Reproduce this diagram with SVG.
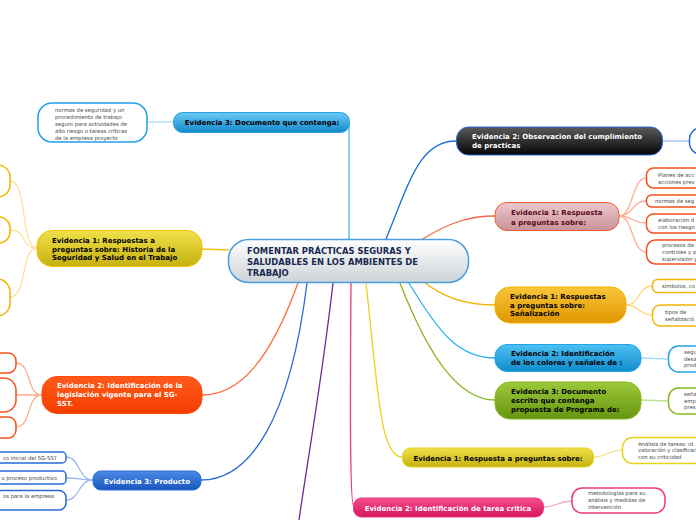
<svg xmlns="http://www.w3.org/2000/svg" width="696" height="520" viewBox="0 0 696 520">
<defs>
<linearGradient id="gBlueL" x1="0" y1="0" x2="0" y2="1"><stop offset="0" stop-color="#6ccaf5"/><stop offset="1" stop-color="#1289cc"/></linearGradient>
<linearGradient id="gYel" x1="0" y1="0" x2="0" y2="1"><stop offset="0" stop-color="#f0e04a"/><stop offset="1" stop-color="#c6b210"/></linearGradient>
<linearGradient id="gRed" x1="0" y1="0" x2="0" y2="1"><stop offset="0" stop-color="#ff5a1a"/><stop offset="1" stop-color="#f53e00"/></linearGradient>
<linearGradient id="gBlue" x1="0" y1="0" x2="0" y2="1"><stop offset="0" stop-color="#4a8ae6"/><stop offset="1" stop-color="#1a56bd"/></linearGradient>
<linearGradient id="gBlack" x1="0" y1="0" x2="0" y2="1"><stop offset="0" stop-color="#5a5a5a"/><stop offset="1" stop-color="#050505"/></linearGradient>
<linearGradient id="gRose" x1="0" y1="0" x2="0" y2="1"><stop offset="0" stop-color="#ecc8cc"/><stop offset="1" stop-color="#c8939a"/></linearGradient>
<linearGradient id="gAmber" x1="0" y1="0" x2="0" y2="1"><stop offset="0" stop-color="#fac63a"/><stop offset="1" stop-color="#de9600"/></linearGradient>
<linearGradient id="gCyan" x1="0" y1="0" x2="0" y2="1"><stop offset="0" stop-color="#4cc0f2"/><stop offset="1" stop-color="#108ccc"/></linearGradient>
<linearGradient id="gGreen" x1="0" y1="0" x2="0" y2="1"><stop offset="0" stop-color="#9cc83a"/><stop offset="1" stop-color="#669610"/></linearGradient>
<linearGradient id="gPink" x1="0" y1="0" x2="0" y2="1"><stop offset="0" stop-color="#f5508f"/><stop offset="1" stop-color="#d6145a"/></linearGradient>
<linearGradient id="gCenter" x1="0" y1="0" x2="0" y2="1"><stop offset="0" stop-color="#ffffff"/><stop offset="1" stop-color="#cdd3d8"/></linearGradient>
</defs>
<style>
.t{font-family:"DejaVu Sans",Verdana,sans-serif;font-weight:bold;font-size:7px;fill:#000}
.tw{fill:#fff}
.s{font-family:"DejaVu Sans",Verdana,sans-serif;font-size:5.3px;fill:#444}
.c{fill:none;stroke-width:1.3}
.leaf{fill:#fff;stroke-width:1.5}
</style>
<rect width="696" height="520" fill="#fff"/>
<g id="connectors">
<path class="c" stroke="#44bdf0" d="M349,240 V122"/>
<path class="c" stroke="#1f6fd8" d="M386,239 C410,180 420,141 456,141"/>
<path class="c" stroke="#f26848" d="M421,240 C450,222 470,216 495,216"/>
<path class="c" stroke="#f5b000" d="M423,281 C445,300 470,305 495,305"/>
<path class="c" stroke="#2eb2ee" d="M409,283 C440,335 460,358 495,358"/>
<path class="c" stroke="#88b820" d="M400,283 C430,360 460,400 495,400"/>
<path class="c" stroke="#e8d21e" d="M366,283 C378,390 380,457 402,457"/>
<path class="c" stroke="#ec3a7e" d="M351,283 C350,420 350,507 354,507"/>
<path class="c" stroke="#6a2a96" d="M333,283 C322,380 306,470 299,520"/>
<path class="c" stroke="#2a6ad8" d="M307,283 C290,420 250,480 201,480"/>
<path class="c" stroke="#ff6a3a" d="M298,283 C270,360 240,395 202,395"/>
<path class="c" stroke="#f5c210" d="M202,249 L229,250"/>
<path class="c" stroke="#a8dcf6" d="M147,122 L173,122"/>
<path class="c" stroke="#fde0a0" d="M37,248 C20,248 28,181 10,181 M37,248 C20,248 28,230 10,230 M37,248 C20,248 28,297 10,297"/>
<path class="c" stroke="#ffab90" d="M42,395 C26,395 32,363 16,363 M42,395 L16,395 M42,395 C26,395 32,427 16,427"/>
<path class="c" stroke="#9ab8f0" d="M93,480 C78,480 80,457 66,457 M93,480 C78,480 80,478 66,478 M93,480 C78,480 80,500 66,500"/>
<path class="c" stroke="#9cc2f0" d="M663,141 L689,141"/>
<path class="c" stroke="#ffae98" d="M619,216 C633,216 632,178 646,178 M619,216 C633,216 632,201 646,201 M619,216 C633,216 632,223 646,223 M619,216 C633,216 632,252 646,252"/>
<path class="c" stroke="#fdd47a" d="M626,305 C640,305 638,286 652,286 M626,305 C640,305 638,315 652,315"/>
<path class="c" stroke="#a8dcf6" d="M641,358 L668,359"/>
<path class="c" stroke="#c0e08a" d="M641,400 L668,401"/>
<path class="c" stroke="#f2e488" d="M594,457 C608,457 608,450 622,450"/>
<path class="c" stroke="#f8a8c6" d="M543,507 C557,507 558,501 572,501"/>
</g>
<g id="center">
<rect x="228.5" y="239.5" width="240" height="43" rx="20" fill="url(#gCenter)" stroke="#4a9ede" stroke-width="1.5"/>
<text class="t" style="font-size:8.4px;fill:#1a2a50"><tspan x="247" y="254">FOMENTAR PRÁCTICAS SEGURAS Y</tspan><tspan x="247" y="265">SALUDABLES EN LOS AMBIENTES DE</tspan><tspan x="247" y="276">TRABAJO</tspan></text>
</g>
<g id="n-doc3">
<rect x="173.5" y="112.5" width="176" height="20" rx="9" fill="url(#gBlueL)" stroke="#2a9ee0"/>
<text class="t" x="262" y="125" text-anchor="middle">Evidencia 3: Documento que contenga:</text>
</g>
<g id="n-doc3-c1">
<rect class="leaf" x="38" y="103" width="109" height="39" rx="14" stroke="#22a0e8"/>
<text class="s"><tspan x="55" y="112">normas de seguridad y un</tspan><tspan x="55" y="119">procedimiento de trabajo</tspan><tspan x="55" y="126">seguro para actividades de</tspan><tspan x="55" y="133">alto riesgo o tareas críticas</tspan><tspan x="55" y="140">de la empresa proyecto</tspan></text>
</g>
<g id="n-hist">
<rect x="37" y="230.5" width="165" height="36" rx="15" fill="url(#gYel)" stroke="#f5c000"/>
<text class="t"><tspan x="52" y="243">Evidencia 1: Respuestas a</tspan><tspan x="52" y="251.5">preguntas sobre: Historia de la</tspan><tspan x="52" y="260">Seguridad y Salud en el Trabajo</tspan></text>
</g>
<g id="n-hist-c1"><rect class="leaf" x="-20" y="165" width="30" height="32" rx="12" stroke="#f5b400"/></g>
<g id="n-hist-c2"><rect class="leaf" x="-20" y="217" width="30" height="26" rx="11" stroke="#f5b400"/></g>
<g id="n-hist-c3"><rect class="leaf" x="-20" y="279" width="30" height="37" rx="13" stroke="#f5b400"/></g>
<g id="n-legis">
<rect x="42" y="376.5" width="160" height="37" rx="15" fill="url(#gRed)" stroke="#ff4a10"/>
<text class="t tw"><tspan x="57" y="388">Evidencia 2: Identificación de la</tspan><tspan x="57" y="397">legislación vigente para el SG-</tspan><tspan x="57" y="406">SST.</tspan></text>
</g>
<g id="n-legis-c1"><rect class="leaf" x="-14" y="353" width="30" height="20" rx="8" stroke="#f5501a"/></g>
<g id="n-legis-c2"><rect class="leaf" x="-14" y="378" width="30" height="34" rx="12" stroke="#f5501a"/></g>
<g id="n-legis-c3"><rect class="leaf" x="-14" y="417" width="30" height="21" rx="8" stroke="#f5501a"/></g>
<g id="n-prod">
<rect x="93" y="471" width="108" height="19" rx="8" fill="url(#gBlue)" stroke="#2a6ad8"/>
<text class="t tw" x="147" y="484" text-anchor="middle">Evidencia 3: Producto</text>
</g>
<g id="n-prod-c1"><rect class="leaf" x="-14" y="452" width="80" height="11" rx="4" stroke="#2a6ad8"/><text class="s" x="57" y="459.5" text-anchor="end">co inicial del SG-SST</text></g>
<g id="n-prod-c2"><rect class="leaf" x="-14" y="471" width="80" height="13" rx="4" stroke="#2a6ad8"/><text class="s" x="57" y="479.5" text-anchor="end">u proceso productivo</text></g>
<g id="n-prod-c3"><rect class="leaf" x="-14" y="490.5" width="80" height="19.5" rx="7" stroke="#2a6ad8"/><text class="s" x="54" y="498" text-anchor="end">os para la empresa</text></g>
<g id="n-obs">
<rect x="456.5" y="127" width="206" height="28" rx="12" fill="url(#gBlack)" stroke="#2a6ad8"/>
<text class="t tw"><tspan x="472" y="139">Evidencia 2: Observacion del cumplimiento</tspan><tspan x="472" y="147.5">de practicas</tspan></text>
</g>
<g id="n-obs-c1"><rect class="leaf" x="689.5" y="127.5" width="30" height="27" rx="12" stroke="#2a6ad8"/></g>
<g id="n-resp">
<rect x="495" y="202.5" width="124" height="28" rx="12" fill="url(#gRose)" stroke="#f55a2a"/>
<text class="t" style="fill:#5a0a1a"><tspan x="511" y="215">Evidencia 1: Respuesta</tspan><tspan x="511" y="224.5">a preguntas sobre:</tspan></text>
</g>
<g id="n-resp-c1"><rect class="leaf" x="646.5" y="168" width="70" height="20" rx="7" stroke="#f5501a"/><text class="s"><tspan x="658" y="176.5">Planes de acc</tspan><tspan x="658" y="184">acciones prev</tspan></text></g>
<g id="n-resp-c2"><rect class="leaf" x="646.5" y="195" width="70" height="12" rx="5" stroke="#f5501a"/><text class="s" x="655" y="203">normas de seg</text></g>
<g id="n-resp-c3"><rect class="leaf" x="646.5" y="214" width="70" height="19" rx="7" stroke="#f5501a"/><text class="s"><tspan x="658" y="222">elaboración d</tspan><tspan x="658" y="229">con los riesgo</tspan></text></g>
<g id="n-resp-c4"><rect class="leaf" x="646.5" y="240" width="70" height="24" rx="9" stroke="#f5501a"/><text class="s"><tspan x="662" y="247">procesos de</tspan><tspan x="662" y="254">controles y p</tspan><tspan x="662" y="261">supervisión y</tspan></text></g>
<g id="n-senal">
<rect x="495" y="287" width="131" height="36" rx="15" fill="url(#gAmber)" stroke="#f5b000"/>
<text class="t"><tspan x="510" y="299">Evidencia 1: Respuestas</tspan><tspan x="510" y="307.5">a preguntas sobre:</tspan><tspan x="510" y="316">Señalización</tspan></text>
</g>
<g id="n-senal-c1"><rect class="leaf" x="652.5" y="279.5" width="60" height="13" rx="5" stroke="#f5b400"/><text class="s" x="662" y="288">símbolos, co</text></g>
<g id="n-senal-c2"><rect class="leaf" x="652.5" y="305" width="60" height="21" rx="8" stroke="#f5b400"/><text class="s"><tspan x="665" y="314">tipos de</tspan><tspan x="665" y="321">señalizació</tspan></text></g>
<g id="n-color">
<rect x="495" y="344.5" width="146" height="27" rx="12" fill="url(#gCyan)" stroke="#22a4e8"/>
<text class="t"><tspan x="511" y="356">Evidencia 2: Identificación</tspan><tspan x="511" y="365">de los colores y señales de :</tspan></text>
</g>
<g id="n-color-c1"><rect class="leaf" x="668.5" y="346" width="40" height="26" rx="10" stroke="#22a4e8"/><text class="s"><tspan x="684" y="354">segu</tspan><tspan x="684" y="360.5">desa</tspan><tspan x="684" y="367">prod</tspan></text></g>
<g id="n-prog">
<rect x="495" y="382" width="146" height="37" rx="15" fill="url(#gGreen)" stroke="#88b820"/>
<text class="t"><tspan x="511" y="394">Evidencia 3: Documento</tspan><tspan x="511" y="403">escrito que contenga</tspan><tspan x="511" y="411.5">propuesta de Programa de:</tspan></text>
</g>
<g id="n-prog-c1"><rect class="leaf" x="668.5" y="388" width="40" height="26" rx="10" stroke="#88b820"/><text class="s"><tspan x="684" y="396">seña</tspan><tspan x="684" y="402.5">emp</tspan><tspan x="684" y="409">pres</tspan></text></g>
<g id="n-tarea">
<rect x="402.5" y="448" width="191" height="19" rx="8" fill="url(#gYel)" stroke="#e8d21e"/>
<text class="t" x="498" y="461" text-anchor="middle">Evidencia 1: Respuesta a preguntas sobre:</text>
</g>
<g id="n-tarea-c1"><rect class="leaf" x="622.5" y="437.5" width="90" height="26" rx="10" stroke="#e8d21e"/><text class="s"><tspan x="638" y="445.5">Análisis de tareas: id</tspan><tspan x="638" y="452">valoración y clasificac</tspan><tspan x="638" y="459">con su criticidad</tspan></text></g>
<g id="n-critica">
<rect x="353.5" y="498" width="190" height="19" rx="8" fill="url(#gPink)" stroke="#ec3a7e"/>
<text class="t tw" x="448" y="510.5" text-anchor="middle">Evidencia 2: Identificación de tarea critica</text>
</g>
<g id="n-critica-c1"><rect class="leaf" x="572" y="488" width="93" height="25" rx="10" stroke="#ec3a7e"/><text class="s"><tspan x="588" y="495">metodologías para su</tspan><tspan x="588" y="502">análisis y medidas de</tspan><tspan x="588" y="509">intervención</tspan></text></g>
</svg>
